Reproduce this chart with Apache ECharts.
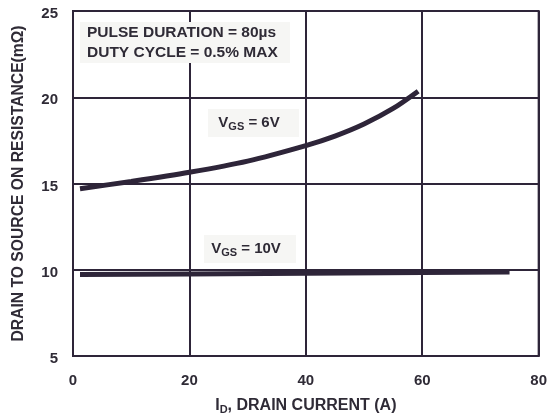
<!DOCTYPE html>
<html>
<head>
<meta charset="utf-8">
<script src="https://cdn.jsdelivr.net/npm/echarts@6/dist/echarts.min.js"></script>
<style>html,body{margin:0;padding:0;background:#fff}#c{width:550px;height:420px}</style>
</head>
<body>
<div id="c"></div>
<script>
// Data
var xTicks = [0, 20, 40, 60, 80];
var yTicks = [5, 10, 15, 20, 25];
var vgs6Current = [1.2, 10, 20, 30, 40, 45, 50, 55, 59.3];
var vgs6Rds =     [14.7, 15.12, 15.65, 16.3, 17.2, 17.75, 18.45, 19.35, 20.35];
var vgs10Current = [1.2, 20, 40, 60, 75];
var vgs10Rds =     [9.72, 9.76, 9.8, 9.84, 9.87];
var noteLines = ['PULSE DURATION = 80\u00b5s', 'DUTY CYCLE = 0.5% MAX'];
var xName = ['I', 'D', ', DRAIN CURRENT (A)'];
var yName = 'DRAIN TO SOURCE ON RESISTANCE(m\u03a9)';

function pairs(xs, ys) { return xs.map(function (x, i) { return [x, ys[i]]; }); }

var ink = '#2e2539';
var txt = '#2f2b36';
var font = '"Liberation Sans", Arial, sans-serif';

var chart = echarts.init(document.getElementById('c'), null, {renderer: 'canvas'});
chart.setOption({
  animation: false,
  backgroundColor: '#ffffff',
  grid: {left: 73, right: 10, top: 11, bottom: 63, show: true, borderColor: ink, borderWidth: 2, backgroundColor: 'transparent'},
  xAxis: {
    type: 'value', min: xTicks[0], max: xTicks[xTicks.length - 1], interval: 20,
    axisLine: {show: true, lineStyle: {color: ink, width: 2}},
    axisTick: {show: false},
    splitLine: {show: true, lineStyle: {color: ink, width: 2}},
    axisLabel: {margin: 17, color: txt, fontSize: 15, fontWeight: 'bold', fontFamily: font},
    name: '{a|' + xName[0] + '}{s|' + xName[1] + '}{a|' + xName[2] + '}',
    nameLocation: 'middle', nameGap: 40,
    nameTextStyle: {
      color: txt, fontSize: 16, fontWeight: 'bold', fontFamily: font,
      rich: {
        a: {color: txt, fontSize: 16, fontWeight: 'bold', fontFamily: font},
        s: {color: txt, fontSize: 11, fontWeight: 'bold', fontFamily: font, padding: [8, 0, 0, 0]}
      }
    }
  },
  yAxis: {
    type: 'value', min: yTicks[0], max: yTicks[yTicks.length - 1], interval: 5,
    axisLine: {show: true, lineStyle: {color: ink, width: 2}},
    axisTick: {show: false},
    splitLine: {show: true, lineStyle: {color: ink, width: 2}},
    axisLabel: {margin: 15, formatter: '{t|{value}}',
      rich: {t: {color: txt, fontSize: 15, fontWeight: 'bold', fontFamily: font, padding: [6, 0, 0, 0]}}},
    name: yName,
    nameLocation: 'middle', nameGap: 46, nameRotate: 90,
    nameTextStyle: {color: txt, fontSize: 15.7, fontWeight: 'bold', fontFamily: font}
  },
  series: [
    {type: 'line', name: 'VGS = 6V', data: pairs(vgs6Current, vgs6Rds), smooth: 0.3, showSymbol: false,
     lineStyle: {color: ink, width: 5, cap: 'butt'}},
    {type: 'line', name: 'VGS = 10V', data: pairs(vgs10Current, vgs10Rds), showSymbol: false,
     lineStyle: {color: ink, width: 5, cap: 'butt'}}
  ],
  graphic: [
    {type: 'rect', shape: {x: 80, y: 22, width: 210, height: 41}, style: {fill: '#f6f6f4'}, z: 10},
    {type: 'text', x: 87, y: 23, z: 11, style: {text: noteLines.join('\n'), fill: txt, font: 'bold 15.5px ' + font, lineHeight: 20}},
    {type: 'rect', shape: {x: 208, y: 109, width: 91, height: 28}, style: {fill: '#f6f6f4'}, z: 10},
    {type: 'text', x: 249, y: 123, z: 11, style: {text: '{v|V}{s|GS}{v| = 6V}', align: 'center', verticalAlign: 'middle',
      rich: {v: {fill: txt, font: 'bold 15px ' + font}, s: {fill: txt, font: 'bold 11px ' + font, padding: [7, 0, 0, 0]}}}},
    {type: 'rect', shape: {x: 204, y: 235, width: 92, height: 28}, style: {fill: '#f6f6f4'}, z: 10},
    {type: 'text', x: 246, y: 249, z: 11, style: {text: '{v|V}{s|GS}{v| = 10V}', align: 'center', verticalAlign: 'middle',
      rich: {v: {fill: txt, font: 'bold 15px ' + font}, s: {fill: txt, font: 'bold 11px ' + font, padding: [7, 0, 0, 0]}}}}
  ]
});
</script>
</body>
</html>
